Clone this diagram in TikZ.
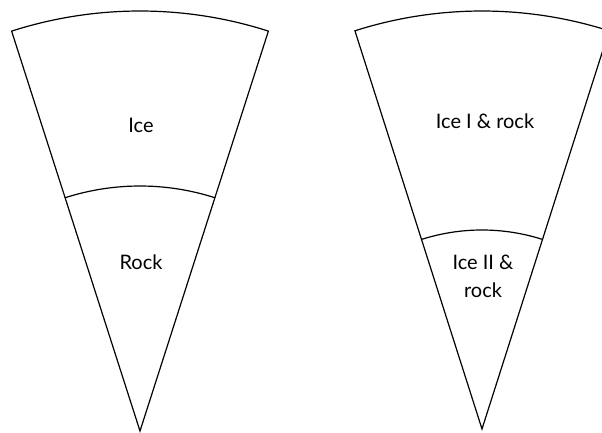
\documentclass[tikz,border=0pt]{standalone}
\usepackage{fontspec}
\setmainfont{Lato}
\usetikzlibrary{calc}
\begin{document}
\begin{tikzpicture}[x=1pt,y=1pt,
  wedge/.style={draw=black,line width=1.2pt,line join=miter},
  lbl/.style={font=\fontsize{20}{28}\selectfont,align=center,inner sep=0pt}]
\useasboundingbox (0,0) rectangle (602,433);
\clip (0,0) rectangle (602,433);
% left wedge
\coordinate (A1) at (140,2);
\draw[wedge] (A1) -- ($(A1)+(107.8:420)$) arc[start angle=107.8,end angle=72.2,radius=420] -- cycle;
\draw[wedge] ($(A1)+(107.8:245)$) arc[start angle=107.8,end angle=72.2,radius=245];
% right wedge
\coordinate (A2) at (482,4);
\draw[wedge] (A2) -- ($(A2)+(107.7:418)$) arc[start angle=107.7,end angle=72.3,radius=418] -- cycle;
\draw[wedge] ($(A2)+(107.7:199)$) arc[start angle=107.7,end angle=72.3,radius=199];
% labels
\node[lbl] (ice) at (141,308) {Ice};
\node[lbl] (rock) at (141,171) {Rock};
\node[lbl] (ice1) at (485,312) {Ice I \& rock};
\node[lbl] (ice2) at (483,157) {Ice II \&\\rock};
\end{tikzpicture}
\end{document}
